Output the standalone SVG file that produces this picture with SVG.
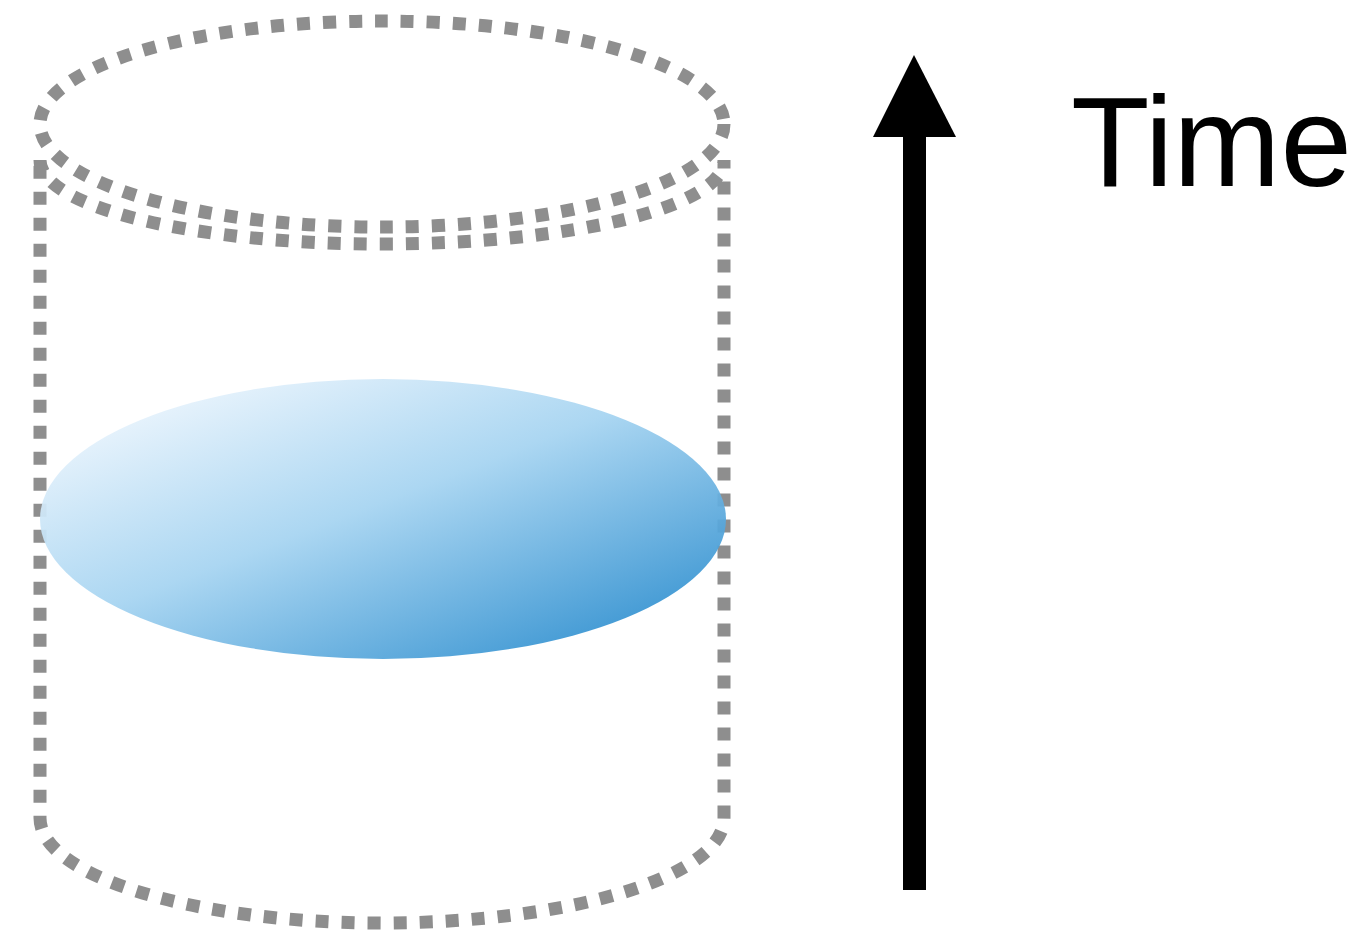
<svg xmlns="http://www.w3.org/2000/svg" width="1368" height="932" viewBox="0 0 1368 932">
  <style>
    .dotted { fill: none; stroke: #8e8e8e; stroke-width: 13; stroke-dasharray: 13 13; }
    .label { font-family: "Liberation Sans", Arial, sans-serif; font-size: 128px; fill: #000; }
  </style>
  <defs>
    <linearGradient id="slice" x1="0.08" y1="0.05" x2="0.95" y2="0.97">
      <stop offset="0" stop-color="#f2f8fe"/>
      <stop offset="0.45" stop-color="#a6d4f1"/>
      <stop offset="1" stop-color="#1f86cb"/>
    </linearGradient>
  </defs>

  <rect width="1368" height="932" fill="#ffffff"/>

  <!-- dotted cylinder -->
  <g id="cylinder">
    <ellipse class="dotted" cx="382" cy="124" rx="342" ry="103"/>
    <path class="dotted" d="M40,160 C40,207 193,244 382,244 C571,244 724,207 724,160 L724,818 C724,876 571,923 382,923 C193,923 40,876 40,818 Z"/>
  </g>

  <!-- coloured cross-section -->
  <g id="slice-node">
    <ellipse cx="383" cy="519" rx="343" ry="140" fill="url(#slice)" opacity="0.94"/>
  </g>

  <!-- time axis -->
  <g id="connectors">
    <rect x="903" y="134" width="23" height="756" fill="#000"/>
    <polygon points="914,55 956,137 873,137" fill="#000"/>
  </g>

  <g id="time-label">
    <text class="label" x="1071" y="186" textLength="281" lengthAdjust="spacingAndGlyphs">Time</text>
  </g>
</svg>
